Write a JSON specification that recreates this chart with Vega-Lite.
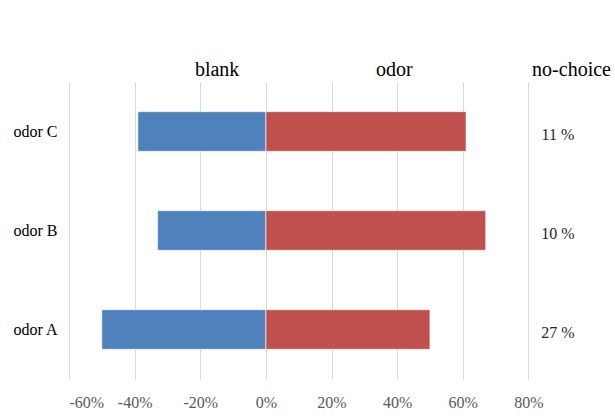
{
  "$schema": "https://vega.github.io/schema/vega-lite/v6.json",
  "autosize": {"type": "none"},
  "padding": {"left": 69, "top": 82, "right": 21, "bottom": 41},
  "width": 525,
  "height": 297,
  "background": "white",
  "config": {
    "font": "Liberation Serif",
    "axis": {"labelFont": "Liberation Serif", "titleFont": "Liberation Serif"},
    "text": {"font": "Liberation Serif"},
    "view": {"stroke": null}
  },
  "datasets": {
    "choice": [
      {"stimulus": "odor C", "side": "blank", "share": -39},
      {"stimulus": "odor C", "side": "odor", "share": 61},
      {"stimulus": "odor B", "side": "blank", "share": -33},
      {"stimulus": "odor B", "side": "odor", "share": 67},
      {"stimulus": "odor A", "side": "blank", "share": -50},
      {"stimulus": "odor A", "side": "odor", "share": 50}
    ],
    "nochoice": [
      {"stimulus": "odor C", "nochoice": 11},
      {"stimulus": "odor B", "nochoice": 10},
      {"stimulus": "odor A", "nochoice": 27}
    ]
  },
  "resolve": {"axis": {"x": "independent"}},
  "layer": [
    {
      "data": {"name": "choice"},
      "mark": {"type": "bar", "stroke": "white", "strokeWidth": 1, "strokeOpacity": 0.6},
      "encoding": {
        "y": {
          "field": "stimulus",
          "type": "nominal",
          "sort": ["odor C", "odor B", "odor A"],
          "scale": {"paddingInner": 0.6, "paddingOuter": 0.3},
          "axis": {
            "title": null,
            "orient": "left",
            "domain": false,
            "ticks": false,
            "tickSize": 0,
            "labelAlign": "left",
            "labelPadding": 56,
            "labelFont": "Liberation Serif",
            "labelFontSize": 16,
            "labelColor": "#000000",
            "labelBaseline": "middle"
          }
        },
        "x": {
          "field": "share",
          "type": "quantitative",
          "stack": null,
          "scale": {"domain": [-60, 100], "nice": false, "zero": false},
          "axis": {
            "title": null,
            "orient": "bottom",
            "values": [-60, -40, -20, 0, 20, 40, 60, 80],
            "labelExpr": "datum.value + '%'",
            "grid": true,
            "gridColor": "#d9d9d9",
            "gridWidth": 1,
            "domain": false,
            "ticks": false,
            "tickSize": 0,
            "labelPadding": 23,
            "labelBaseline": "middle",
            "labelFont": "Liberation Serif",
            "labelFontSize": 16,
            "labelColor": "#595959"
          }
        },
        "color": {
          "field": "side",
          "type": "nominal",
          "scale": {"domain": ["blank", "odor"], "range": ["#4F81BD", "#C0504D"]},
          "legend": null
        }
      }
    },
    {
      "data": {"name": "nochoice"},
      "mark": {
        "type": "text",
        "font": "Liberation Serif",
        "fontSize": 16,
        "color": "#262626",
        "align": "center",
        "baseline": "middle",
        "dy": 3,
        "text": {"expr": "datum.nochoice + ' %'"}
      },
      "encoding": {
        "y": {"field": "stimulus", "type": "nominal", "sort": ["odor C", "odor B", "odor A"]},
        "x": {
          "datum": 89,
          "type": "quantitative",
          "axis": {
            "title": null,
            "orient": "top",
            "values": [-15, 39, 93],
            "labelExpr": "datum.value < 0 ? 'blank' : datum.value < 60 ? 'odor' : 'no-choice'",
            "grid": false,
            "domain": false,
            "ticks": false,
            "tickSize": 0,
            "labelPadding": 7,
            "labelBaseline": "alphabetic",
            "labelFont": "Liberation Serif",
            "labelFontSize": 20,
            "labelColor": "#000000",
            "labelFlush": false,
            "labelOverlap": false
          }
        }
      }
    }
  ]
}
